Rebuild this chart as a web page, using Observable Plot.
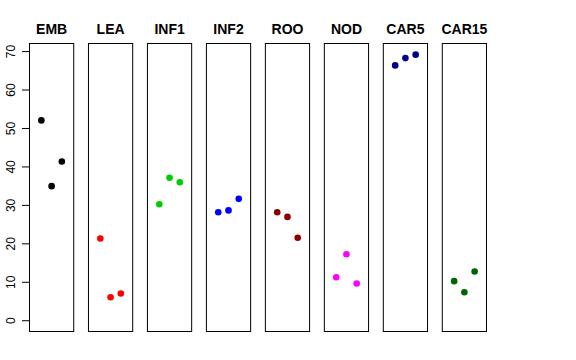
<!DOCTYPE html>
<html>
<head>
<meta charset="utf-8">
<script src="https://cdn.jsdelivr.net/npm/d3@7"></script>
<script src="https://cdn.jsdelivr.net/npm/@observablehq/plot@0.6"></script>
<style>
  html, body { margin: 0; padding: 0; background: #fff; }
</style>
</head>
<body>
<div id="chart"></div>
<script>
const categories = ["EMB", "LEA", "INF1", "INF2", "ROO", "NOD", "CAR5", "CAR15"];
const colors = ["#000000", "#FF0000", "#00CD00", "#0000FF", "#8B0000", "#FF00FF", "#00008B", "#006400"];
const EMB = [52.1, 35.0, 41.4];
const LEA = [21.4, 6.1, 7.1];
const INF1 = [30.3, 37.2, 36.0];
const INF2 = [28.2, 28.7, 31.7];
const ROO = [28.2, 27.0, 21.6];
const NOD = [11.3, 17.3, 9.7];
const CAR5 = [66.4, 68.3, 69.2];
const CAR15 = [10.3, 7.4, 12.8];
const yTicks = [0, 10, 20, 30, 40, 50, 60, 70];

const series = {EMB, LEA, INF1, INF2, ROO, NOD, CAR5, CAR15};
const data = categories.flatMap(c => series[c].map((v, i) => ({cat: c, rep: i + 1, value: v})));

const font = "'Liberation Sans', Arial, Helvetica, sans-serif";

const chart = Plot.plot({
  width: 576,
  height: 360,
  marginLeft: 29,
  marginRight: 90,
  marginTop: 43,
  marginBottom: 29,
  style: {fontFamily: font, fontSize: "12px", background: "#fff"},
  fx: {domain: categories, paddingInner: 0.25, paddingOuter: 0, round: false, axis: null},
  x: {domain: [-0.16, 4.16], axis: null},
  y: {domain: [-2.8, 72.1], axis: null},
  color: {domain: categories, range: colors},
  marks: [
    Plot.frame({stroke: "#000", strokeWidth: 1}),
    Plot.axisY({
      ticks: yTicks,
      tickSize: 7,
      tickPadding: 7.5,
      tickRotate: -90,
      fontSize: 12,
      stroke: "#000",
      fill: "#000",
      facetAnchor: "left",
      label: null
    }),
    Plot.text(categories, {
      fx: d => d,
      text: d => d,
      frameAnchor: "top",
      lineAnchor: "middle",
      dy: -13.5,
      fontWeight: "bold",
      fontSize: 14,
      fill: "#000"
    }),
    Plot.dot(data, {
      fx: "cat",
      x: "rep",
      y: "value",
      fill: "cat",
      r: 3.3,
      stroke: null
    })
  ]
});

document.getElementById("chart").appendChild(chart);
</script>
</body>
</html>
